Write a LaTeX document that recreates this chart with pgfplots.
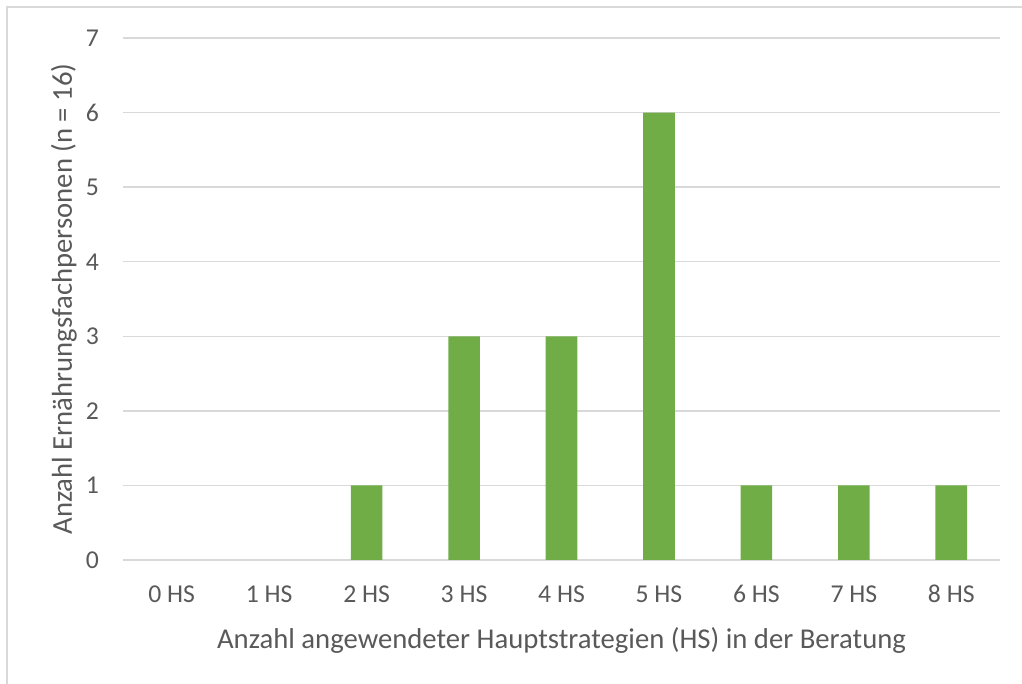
\documentclass[border=0pt]{standalone}
\usepackage{pgfplots}
\pgfplotsset{compat=1.18}
\usepackage{fontspec}
\setmainfont{Carlito}
\definecolor{txt}{HTML}{595959}
\definecolor{gridc}{HTML}{D9D9D9}
\definecolor{barc}{HTML}{70AD47}
\begin{document}
\begin{tikzpicture}[x=1pt,y=1pt]
\path[use as bounding box] (0,0) rectangle (1022,684);
\draw[gridc, line width=2pt] (7,0) -- (7,677) -- (1022,677);
\begin{axis}[
  at={(123pt,124pt)}, anchor=south west,
  scale only axis, width=877pt, height=522pt,
  xmin=-0.5, xmax=8.5, ymin=0, ymax=7,
  ytick={0,1,...,7},
  xtick={0,1,...,8},
  xticklabels={0 HS,1 HS,2 HS,3 HS,4 HS,5 HS,6 HS,7 HS,8 HS},
  major tick length=0pt,
  axis line style={draw=none},
  ymajorgrids, grid style={gridc, line width=1.5pt},
  /pgf/number format/assume math mode=true,
  tick label style={font=\fontsize{25.7}{30}\selectfont, text=txt, inner sep=0pt},
  xticklabel style={anchor=base, yshift=-43pt},
  yticklabel style={anchor=base east, xshift=-24pt, yshift=-8.5pt},
  label style={font=\fontsize{28.7}{32}\selectfont, text=txt},
  xlabel={Anzahl angewendeter Hauptstrategien (HS) in der Beratung},
  xlabel style={at={(axis description cs:0.5,-0.1686)}, anchor=base, inner sep=0pt},
  ylabel={Anzahl Ernährungsfachpersonen (n = 16)},
  ylabel style={at={(axis description cs:-0.0582,0.5)}, anchor=base, inner sep=0pt},
]
\addplot[ybar, bar width=31.6pt, bar shift=0pt, fill=barc, draw=none,
  y filter/.expression={y<=0 ? nan : y}, unbounded coords=discard]
  coordinates {(0,0) (1,0) (2,1) (3,3) (4,3) (5,6) (6,1) (7,1) (8,1)};
\end{axis}
\end{tikzpicture}
\end{document}
